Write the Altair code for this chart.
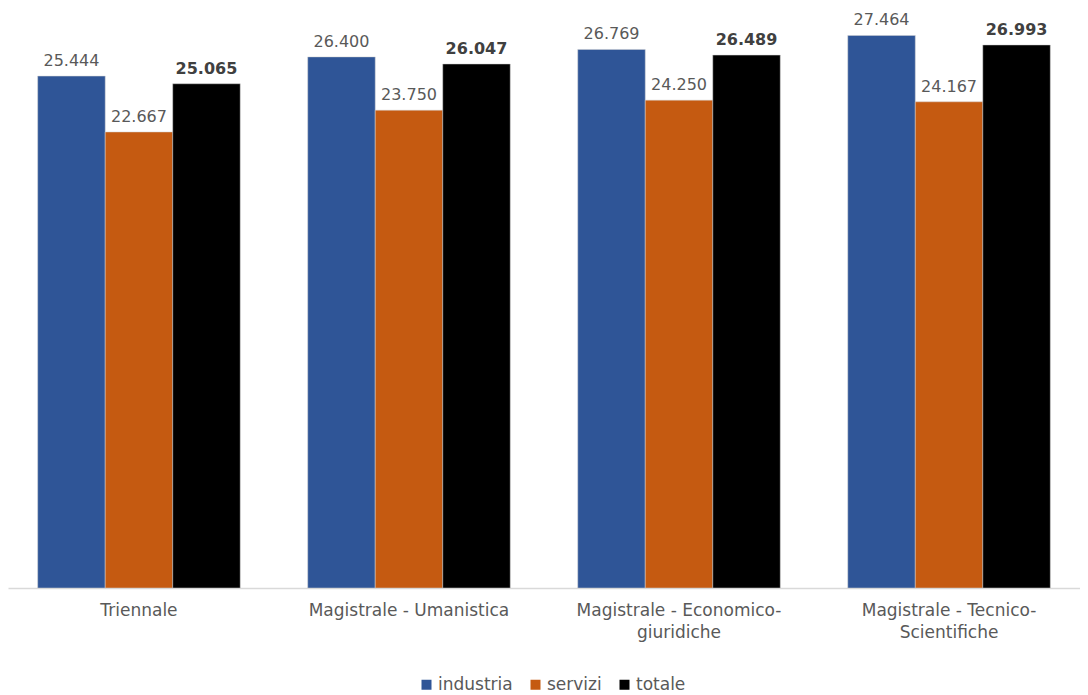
import altair as alt
import pandas as pd

categories = ["Triennale", "Magistrale - Umanistica", "Magistrale - Economico-|giuridiche", "Magistrale - Tecnico-|Scientifiche"]
series = ["industria", "servizi", "totale"]
industria = [25444, 26400, 26769, 27464]
servizi = [22667, 23750, 24250, 24167]
totale = [25065, 26047, 26489, 26993]
colors = ["#2F5597", "#C55A11", "#000000"]

rows = []
for i, c in enumerate(categories):
    for s, vals in zip(series, [industria, servizi, totale]):
        v = vals[i]
        rows.append({"cat": c, "serie": s, "val": v,
                     "lab": f"{v // 1000}.{v % 1000:03d}"})
df = pd.DataFrame(rows)

FONT = "DejaVu Sans"

x = alt.X("cat:N", sort=categories, title=None,
          scale=alt.Scale(paddingInner=0.25, paddingOuter=0.11),
          axis=alt.Axis(labelAngle=0, labelExpr="split(datum.label, '|')",
                        labelFont=FONT, labelFontSize=17, labelColor="#595959",
                        labelPadding=14, labelLineHeight=22,
                        ticks=False, domainColor="#D9D9D9", domainWidth=1.5,
                        labelLimit=400))
y = alt.Y("val:Q", title=None, scale=alt.Scale(domain=[0, 28830], nice=False, zero=True),
          axis=None)
xo = alt.XOffset("serie:N", sort=series)

bars = alt.Chart(df).mark_bar(stroke="#D0D0D0", strokeWidth=0.5).encode(
    x=x, y=y, xOffset=xo,
    color=alt.Color("serie:N", sort=series,
                    scale=alt.Scale(domain=series, range=colors),
                    legend=alt.Legend(title=None, orient="none", direction="horizontal",
                                      legendX=410, legendY=668,
                                      symbolType="square", symbolSize=100,
                                      symbolStrokeWidth=0,
                                      labelFont=FONT, labelFontSize=17,
                                      labelColor="#595959", columnPadding=14,
                                      labelOffset=3)),
)

labels_normal = alt.Chart(df[df.serie != "totale"]).mark_text(
    baseline="alphabetic", dy=-10, font=FONT, fontSize=16, color="#595959"
).encode(x=x, y=y, xOffset=xo, text="lab:N")

labels_bold = alt.Chart(df[df.serie == "totale"]).mark_text(
    baseline="alphabetic", dy=-10, font=FONT, fontSize=16, fontWeight="bold", color="#404040"
).encode(x=x, y=y, xOffset=xo, text="lab:N")

chart = alt.layer(bars, labels_normal, labels_bold).properties(
    width=1072, height=580, padding=0
).configure_view(stroke=None, strokeWidth=0)

chart.save("out.html", embed_options={"renderer": "svg", "actions": False})
